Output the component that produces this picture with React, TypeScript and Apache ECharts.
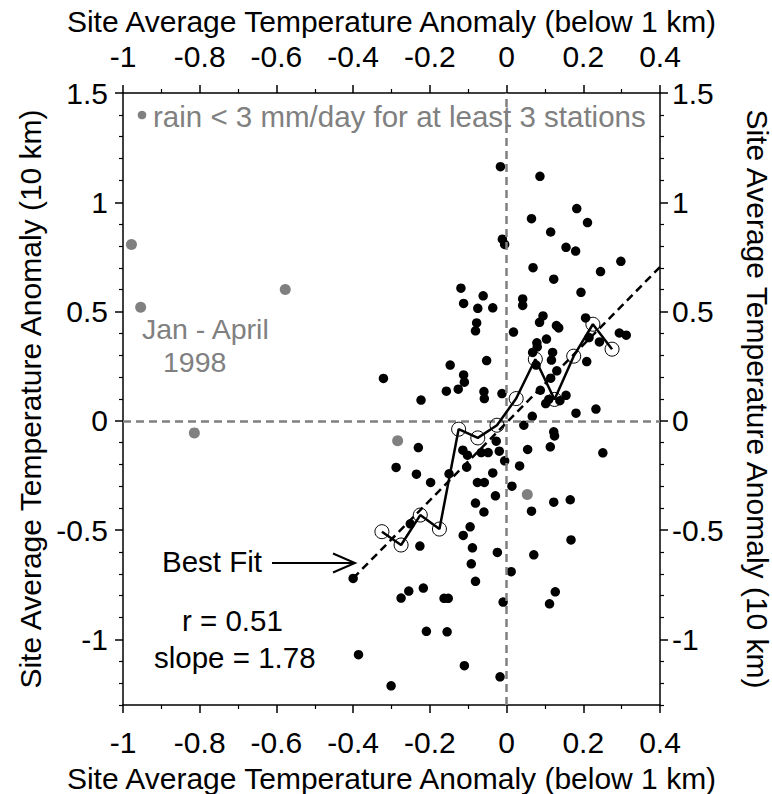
import React, { useEffect, useRef } from "react";
import * as echarts from "echarts";

// Black points: all months
const blackX = [
  -0.016, -0.011, -0.005, -0.119, -0.061, -0.112, -0.075, -0.036, -0.078, -0.081,
  0.087, 0.183, 0.065, 0.211, 0.115, 0.155, 0.18, 0.298, 0.069, 0.245,
  0.123, 0.194, 0.042, 0.042, 0.095, 0.086, 0.206, 0.13, 0.136, 0.018,
  0.294, 0.312, 0.104, 0.215, 0.242, 0.079, 0.08, 0.068, 0.12, 0.117,
  0.209, 0.077, 0.131, 0.115, 0.088, -0.012, 0.155, 0.11, 0.102, 0.139,
  0.181, 0.233, 0.067, 0.045, 0.123, 0.125, 0.114, 0.055, 0.251, -0.005,
  0.034, 0.014, 0.123, 0.166, 0.065, 0.168, 0.071, 0.012, 0.127, 0.112,
  -0.009, -0.017, -0.4, -0.226, -0.113, -0.089, -0.024, -0.092, -0.081, -0.217,
  -0.255, -0.275, -0.163, -0.152, -0.209, -0.155, -0.386, -0.11, -0.301, -0.321,
  -0.147, -0.052, -0.112, -0.11, -0.223, -0.157, -0.126, -0.059, -0.058, -0.23,
  -0.288, -0.235, -0.198, -0.15, -0.114, -0.102, -0.104, -0.066, -0.048, -0.027,
  -0.019, -0.036, -0.076, -0.058, -0.029, -0.081, -0.059, -0.251, -0.095,
];
const blackY = [
  1.163, 0.831, 0.807, 0.607, 0.572, 0.537, 0.515, 0.517, 0.448, 0.412,
  1.119, 0.971, 0.925, 0.907, 0.864, 0.794, 0.777, 0.73, 0.701, 0.683,
  0.648, 0.588, 0.558, 0.528, 0.48, 0.451, 0.471, 0.436, 0.425, 0.406,
  0.402, 0.392, 0.374, 0.381, 0.361, 0.357, 0.338, 0.313, 0.313, 0.278,
  0.271, 0.255, 0.229, 0.195, 0.14, 0.125, 0.117, 0.098, 0.079, 0.092,
  0.035, 0.054, 0.021, -0.02, -0.05, -0.069, -0.119, -0.131, -0.146, -0.183,
  -0.206, -0.299, -0.372, -0.361, -0.413, -0.545, -0.613, -0.69, -0.782, -0.837,
  -0.829, -1.171, -0.721, -0.573, -0.524, -0.581, -0.602, -0.654, -0.734, -0.765,
  -0.779, -0.811, -0.812, -0.812, -0.963, -0.965, -1.07, -1.12, -1.212, 0.194,
  0.255, 0.276, 0.21, 0.177, 0.095, 0.136, 0.145, 0.134, 0.102, -0.122,
  -0.213, -0.244, -0.282, -0.242, -0.134, -0.157, -0.212, -0.145, -0.145, -0.093,
  -0.139, -0.238, -0.282, -0.282, -0.343, -0.376, -0.417, -0.471, -0.485,
];

// Gray points: rain < 3 mm/day for at least 3 stations
const grayX = [-0.978, -0.954, -0.577, -0.814, -0.284, 0.054];
const grayY = [0.807, 0.52, 0.601, -0.055, -0.091, -0.337];

// Binned means (open circles)
const binX = [-0.325, -0.275, -0.225, -0.175, -0.125, -0.075, -0.025, 0.025, 0.075, 0.125, 0.175, 0.225, 0.275];
const binY = [-0.507, -0.568, -0.431, -0.495, -0.038, -0.078, -0.02, 0.102, 0.282, 0.098, 0.296, 0.442, 0.328];

// Best fit line
const fitX = [-0.4, 0.4];
const fitY = [-0.72, 0.704];

// Ticks
const xTicks = [-1, -0.8, -0.6, -0.4, -0.2, 0, 0.2, 0.4];
const xMinorTicks = [-0.9, -0.7, -0.5, -0.3, -0.1, 0.1, 0.3];
const yTicks = [-1, -0.5, 0, 0.5, 1, 1.5];
const yMinorTicks = [
  -1.3, -1.2, -1.1, -0.9, -0.8, -0.7, -0.6, -0.4, -0.3, -0.2, -0.1,
  0.1, 0.2, 0.3, 0.4, 0.6, 0.7, 0.8, 0.9, 1.1, 1.2, 1.3, 1.4,
];

const xTitle = "Site Average Temperature Anomaly (below 1 km)";
const yTitle = "Site Average Temperature Anomaly (10 km)";

const FONT = "Liberation Sans, Arial, sans-serif";
const GRAY = "#808080";
const FS = 30;
const FS2 = 29.5;

export default function App() {
  const ref = useRef<HTMLDivElement>(null);
  useEffect(() => {
    if (!ref.current) return;
    const chart = echarts.init(ref.current, undefined, { renderer: "svg" });
    const zip = (xs: number[], ys: number[]) => xs.map((x, i) => [x, ys[i]]);

    const majorX = (position: "bottom" | "top", nameGap: number) => ({
      type: "value",
      position,
      min: -1,
      max: 0.4,
      name: xTitle,
      nameLocation: "middle",
      nameGap,
      nameTextStyle: { fontFamily: FONT, fontSize: FS, color: "#000" },
      axisLine: { show: true, onZero: false, lineStyle: { color: "#000", width: 1.5 } },
      axisTick: { show: true, inside: false, length: 8, customValues: xTicks, lineStyle: { color: "#000", width: 1.5 } },
      axisLabel: { show: true, customValues: xTicks, margin: 22, fontFamily: FONT, fontSize: FS, color: "#000" },
      splitLine: { show: false },
    });
    const minorX = (position: "bottom" | "top") => ({
      type: "value",
      position,
      min: -1,
      max: 0.4,
      axisLine: { show: false, onZero: false },
      axisTick: { show: true, inside: false, length: 4, customValues: xMinorTicks, lineStyle: { color: "#000", width: 1.2 } },
      axisLabel: { show: false },
      splitLine: { show: false },
    });
    const majorY = (position: "left" | "right", nameGap: number, nameRotate: number, margin: number) => ({
      type: "value",
      position,
      min: -1.3,
      max: 1.5,
      name: yTitle,
      nameLocation: "middle",
      nameGap,
      nameRotate,
      nameTextStyle: { fontFamily: FONT, fontSize: FS, color: "#000" },
      axisLine: { show: true, onZero: false, lineStyle: { color: "#000", width: 1.5 } },
      axisTick: { show: true, inside: false, length: 8, customValues: yTicks, lineStyle: { color: "#000", width: 1.5 } },
      axisLabel: { show: true, customValues: yTicks, margin, fontFamily: FONT, fontSize: FS, color: "#000" },
      splitLine: { show: false },
    });
    const minorY = (position: "left" | "right") => ({
      type: "value",
      position,
      min: -1.3,
      max: 1.5,
      axisLine: { show: false, onZero: false },
      axisTick: { show: true, inside: false, length: 4, customValues: yMinorTicks, lineStyle: { color: "#000", width: 1.2 } },
      axisLabel: { show: false },
      splitLine: { show: false },
    });

    const option: any = {
      animation: false,
      backgroundColor: "#fff",
      textStyle: { fontFamily: FONT },
      grid: { left: 123, right: 112, top: 93, bottom: 89, containLabel: false, outerBoundsMode: "none" },
      xAxis: [majorX("bottom", 58), minorX("bottom"), majorX("top", 53), minorX("top")],
      yAxis: [majorY("left", 77, 90, 15), minorY("left"), majorY("right", 82, -90, 12), minorY("right")],
      series: [
        {
          type: "line",
          data: [],
          silent: true,
          z: 1,
          markLine: {
            silent: true,
            symbol: ["none", "none"],
            label: { show: false },
            lineStyle: { type: [8, 5], color: GRAY, width: 2.5 },
            data: [{ xAxis: 0 }, { yAxis: 0 }],
          },
        },
        {
          type: "scatter",
          data: zip(blackX, blackY),
          symbol: "circle",
          symbolSize: 9.5,
          itemStyle: { color: "#000", opacity: 1 },
          z: 3,
        },
        {
          type: "scatter",
          data: zip(grayX, grayY),
          symbol: "circle",
          symbolSize: 11,
          itemStyle: { color: GRAY, opacity: 1 },
          z: 3,
        },
        {
          type: "line",
          data: zip(fitX, fitY),
          symbol: "none",
          lineStyle: { type: [8, 5], color: "#000", width: 2.5 },
          z: 4,
        },
        {
          type: "line",
          data: zip(binX, binY),
          symbol: "circle",
          symbolSize: 14,
          itemStyle: { color: "rgba(0,0,0,0)", borderColor: "#000", borderWidth: 1 },
          lineStyle: { color: "#000", width: 2.5 },
          z: 5,
        },
      ],
      graphic: [
        { type: "circle", shape: { cx: 142, cy: 115, r: 4.3 }, style: { fill: GRAY }, z: 10 },
        {
          type: "text",
          x: 153,
          y: 116,
          style: { text: "rain < 3 mm/day for at least 3 stations", fill: GRAY, font: `${FS2}px ${FONT}`, textVerticalAlign: "middle" },
          z: 10,
        },
        {
          type: "text",
          x: 142,
          y: 329,
          style: { text: "Jan - April", fill: GRAY, font: `28.5px ${FONT}`, textVerticalAlign: "middle" },
          z: 10,
        },
        {
          type: "text",
          x: 163,
          y: 362,
          style: { text: "1998", fill: GRAY, font: `28.5px ${FONT}`, textVerticalAlign: "middle" },
          z: 10,
        },
        {
          type: "text",
          x: 162,
          y: 561,
          style: { text: "Best Fit", fill: "#000", font: `${FS2}px ${FONT}`, textVerticalAlign: "middle" },
          z: 10,
        },
        { type: "line", shape: { x1: 272, y1: 563, x2: 354, y2: 563 }, style: { stroke: "#000", lineWidth: 2 }, z: 10 },
        {
          type: "polyline",
          shape: { points: [[333, 553.5], [355, 563], [333, 572.5]] },
          style: { stroke: "#000", lineWidth: 2, fill: null },
          z: 10,
        },
        {
          type: "text",
          x: 182,
          y: 620,
          style: { text: "r = 0.51", fill: "#000", font: `${FS2}px ${FONT}`, textVerticalAlign: "middle" },
          z: 10,
        },
        {
          type: "text",
          x: 154,
          y: 657,
          style: { text: "slope = 1.78", fill: "#000", font: `${FS2}px ${FONT}`, textVerticalAlign: "middle" },
          z: 10,
        },
      ],
    };
    chart.setOption(option);
    return () => chart.dispose();
  }, []);
  return <div ref={ref} style={{ position: "fixed", left: 0, top: 0, width: 772, height: 794 }} />;
}
